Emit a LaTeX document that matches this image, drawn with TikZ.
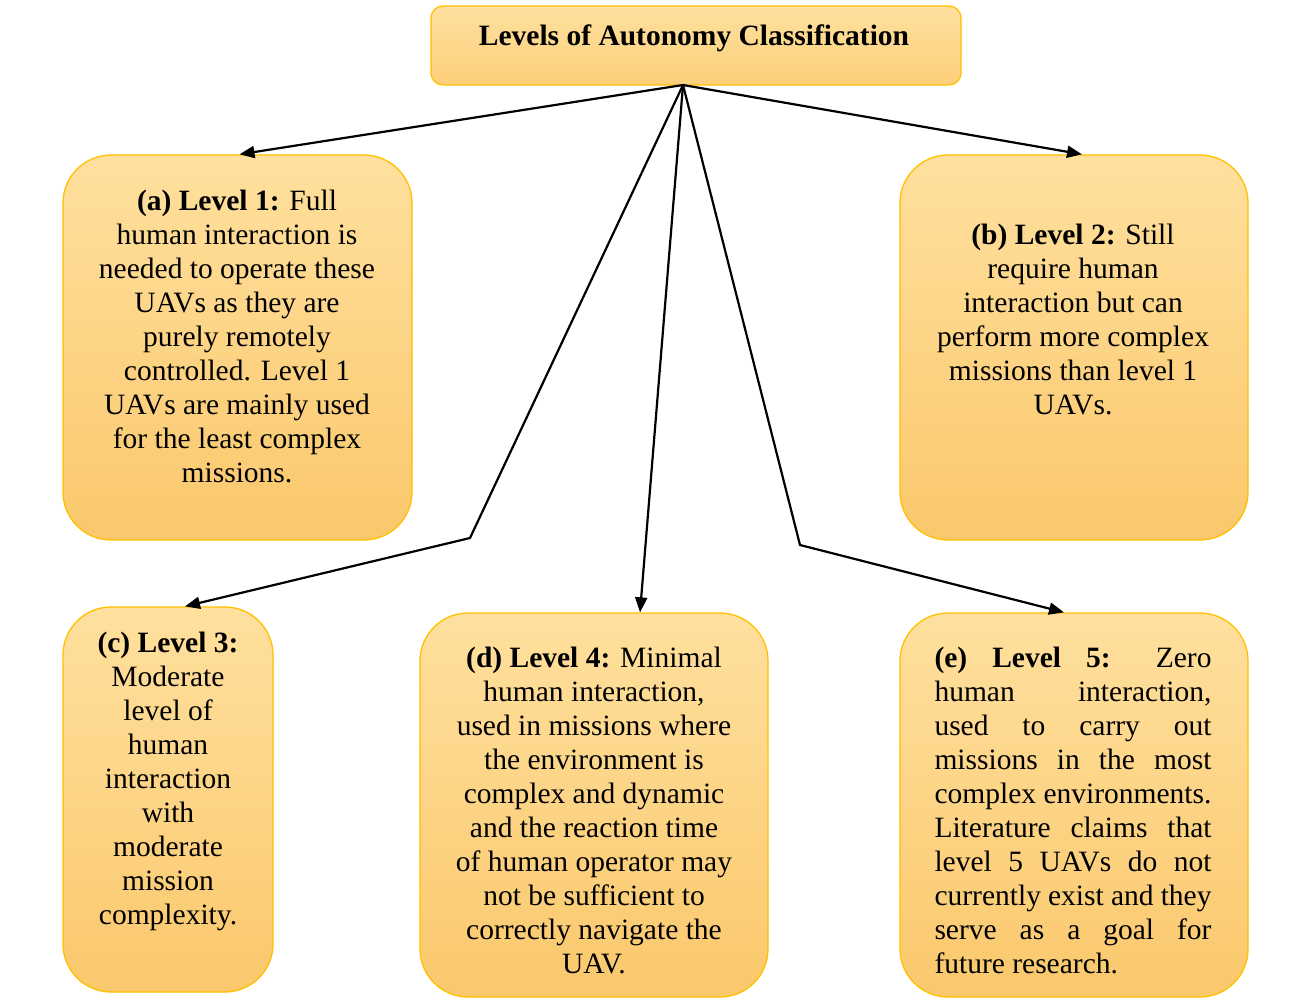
\documentclass[tikz,border=0pt]{standalone}
\usepackage{fontspec}
\setmainfont{LiberationSerif}[Extension=.ttf, UprightFont=*-Regular, BoldFont=*-Bold, ItalicFont=*-Italic, BoldItalicFont=*-BoldItalic]
\usetikzlibrary{arrows.meta,calc}
\definecolor{boxtop}{RGB}{255,224,158}
\definecolor{boxbot}{RGB}{250,200,108}
\definecolor{boxline}{RGB}{255,192,0}
\tikzset{
  levelbox/.style={draw=boxline, line width=1.3pt, rounded corners=48pt,
    top color=boxtop, bottom color=boxbot, inner sep=0pt},
  headbox/.style={draw=boxline, line width=1.3pt, rounded corners=12pt,
    top color=boxtop, bottom color=boxbot!70!boxtop, inner sep=0pt},
  bodytext/.style={align=center, inner sep=0pt, font=\fontsize{29.5}{34}\selectfont},
  link/.style={line width=2.2pt, -{Triangle[length=15pt,width=12pt]}}
}
\begin{document}
\begin{tikzpicture}[x=1pt,y=-1pt]
  \useasboundingbox (0,0) rectangle (1300,1000);

  % title
  \node[headbox, minimum width=530pt, minimum height=79pt] (head) at (696,45.5) {};
  \node[inner sep=0pt, font=\fontsize{29.5}{34}\selectfont\bfseries] (headtxt) at (694,38)
    {Levels of Autonomy Classification};

  % level boxes
  \node[levelbox, minimum width=349pt, minimum height=385pt] (boxa) at (237.5,347.5) {};
  \node[levelbox, minimum width=348pt, minimum height=385pt] (boxb) at (1074,347.5) {};
  \node[levelbox, minimum width=210pt, minimum height=385pt] (boxc) at (168,799.5) {};
  \node[levelbox, minimum width=348pt, minimum height=384pt] (boxd) at (594,805) {};
  \node[levelbox, minimum width=348pt, minimum height=384pt] (boxe) at (1074,805) {};

  % texts
  \node[bodytext] (txta) at (237,336) {\textbf{(a) Level 1:} Full\\human interaction is\\needed to operate these\\UAVs as they are\\purely remotely\\controlled. Level 1\\UAVs are mainly used\\for the least complex\\missions.};
  \node[bodytext] (txtb) at (1073,319) {\textbf{(b) Level 2:} Still\\require human\\interaction but can\\perform more complex\\missions than level 1\\UAVs.};
  \node[bodytext] (txtc) at (168,781) {\textbf{(c) Level 3:}\\Moderate\\level of\\human\\interaction\\with\\moderate\\mission\\complexity.};
  \node[bodytext] (txtd) at (594,810) {\textbf{(d) Level 4:} Minimal\\human interaction,\\used in missions where\\the environment is\\complex and dynamic\\and the reaction time\\of human operator may\\not be sufficient to\\correctly navigate the\\UAV.};
  \node[bodytext, align=left] (txte) at (1073,810) {%
    \makebox[277pt][s]{\textbf{(e) Level 5:} Zero}\\
    \makebox[277pt][s]{human interaction,}\\
    \makebox[277pt][s]{used to carry out}\\
    \makebox[277pt][s]{missions in the most}\\
    \makebox[277pt][s]{complex environments.}\\
    \makebox[277pt][s]{Literature claims that}\\
    \makebox[277pt][s]{level 5 UAVs do not}\\
    \makebox[277pt][s]{currently exist and they}\\
    \makebox[277pt][s]{serve as a goal for}\\
    \makebox[277pt][l]{future research.}};

  % connectors
  \coordinate (hub) at (683,85);
  \coordinate (bendc) at (470,538);
  \coordinate (bende) at (800,545);
  \draw[link] (hub) -- ([xshift=2pt]boxa.north);
  \draw[link] (hub) -- ([xshift=8pt]boxb.north);
  \draw[link, line join=miter] (hub) -- (bendc) -- ([xshift=17pt]boxc.north);
  \draw[link] (hub) -- ([xshift=46pt]boxd.north);
  \draw[link, line join=miter] (hub) -- (bende) -- ([xshift=-10pt]boxe.north);
\end{tikzpicture}
\end{document}
